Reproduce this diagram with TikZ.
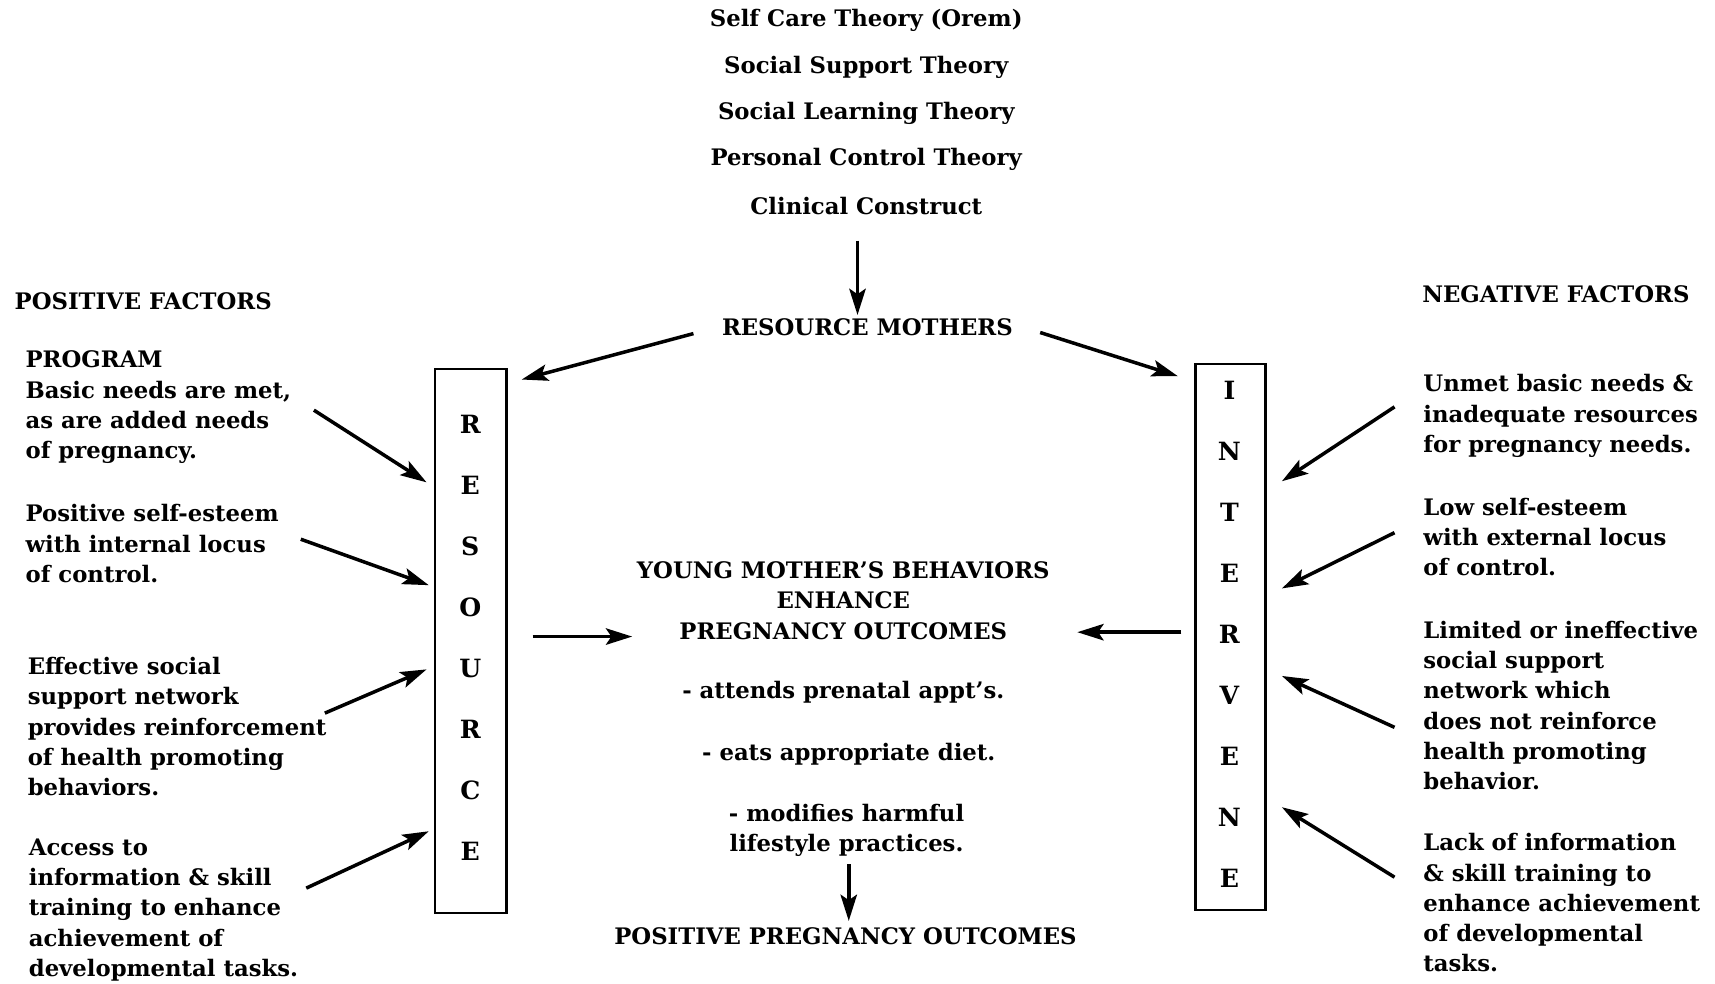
\documentclass[tikz,border=0pt]{standalone}
\usepackage{fontspec}
\setmainfont{DejaVu Serif}
\usetikzlibrary{arrows.meta}

\tikzset{
  lbl/.style={font=\bfseries\fontsize{10.4}{13.85}\selectfont, inner sep=0pt},
  fact/.style={lbl, align=left, anchor=west},
  mid/.style={lbl, align=center},
  letter/.style={font=\bfseries\fontsize{11.5}{12}\selectfont, inner sep=0pt},
  letterbox/.style={draw, line width=1pt, inner sep=0pt},
  pil/.style={-{Stealth[length=12pt,width=7.5pt,inset=2.5pt]}, line width=1.6pt},
}

\begin{document}
\begin{tikzpicture}[x=0.5pt, y=-0.5pt]

\useasboundingbox (0,0) rectangle (1568,899);

% theories
\foreach \t [count=\i] in {{Self Care Theory (Orem)}, {Social Support Theory},
    {Social Learning Theory}, {Personal Control Theory}, {Clinical Construct}}
  \node[mid] (th\i) at (792, {19+42.25*(\i-1)}) {\t};

\node[mid] (rm) at (793,299) {RESOURCE MOTHERS};

\node[lbl, anchor=west] (pos) at (13,275) {POSITIVE FACTORS};
\node[lbl, anchor=west] (neg) at (1300,269) {NEGATIVE FACTORS};

% the two boxes
\node[letterbox, minimum width=32.5pt, minimum height=249pt] (res) at (430.5,586) {};
\node[letterbox, minimum width=32pt, minimum height=249.5pt] (int) at (1125,582.5) {};

\foreach \ch [count=\i] in {R,E,S,O,U,R,C,E}
  \node[letter] (r\i) at (430, {388+55.7*(\i-1)}) {\ch};
\foreach \ch [count=\i] in {I,N,T,E,R,V,E,N,E}
  \node[letter] (n\i) at (1124, {357+55.8*(\i-1)}) {\ch};

% positive factors
\node[fact] (p1) at (23,372.5) {PROGRAM\\Basic needs are met,\\as are added needs\\of pregnancy.};
\node[fact] (p2) at (23,497) {Positive self-esteem\\with internal locus\\of control.};
\node[fact] (p3) at (25,664.5) {Effective social\\support network\\provides reinforcement\\of health promoting\\behaviors.};
\node[fact] (p4) at (26,832) {Access to\\information \& skill\\training to enhance\\achievement of\\developmental tasks.};

% negative factors
\node[fact] (q1) at (1301,380.5) {Unmet basic needs \&\\inadequate resources\\for pregnancy needs.};
\node[fact] (q2) at (1301,491) {Low self-esteem\\with external locus\\of control.};
\node[fact] (q3) at (1301,645) {Limited or ineffective\\social support\\network which\\does not reinforce\\health promoting\\behavior.};
\node[fact] (q4) at (1301,825.5) {Lack of information\\\& skill training to\\enhance achievement\\of developmental\\tasks.};

% middle
\node[mid] (beh) at (771,549) {YOUNG MOTHER'S BEHAVIORS\\ENHANCE\\PREGNANCY OUTCOMES};
\node[mid] (b1) at (771,633) {- attends prenatal appt's.};
\node[mid] (b2) at (776,690) {- eats appropriate diet.};
\node[mid] (b3) at (774,759) {- modifies harmful\\lifestyle practices.};
\node[mid] (out) at (773,856) {POSITIVE PREGNANCY OUTCOMES};

% arrow ends
\coordinate (t0) at (784,220);   \coordinate (t1) at (784,288);
\coordinate (ml) at (634,305);   \coordinate (mlx) at (477,347);
\coordinate (mr) at (951,304);   \coordinate (mrx) at (1077,344);
\coordinate (pa1) at (287,375);  \coordinate (pb1) at (390,441);
\coordinate (pa2) at (275,493);  \coordinate (pb2) at (392,535);
\coordinate (pa3) at (297,652);  \coordinate (pb3) at (390,612);
\coordinate (pa4) at (280,812);  \coordinate (pb4) at (392,760);
\coordinate (qa1) at (1275,372); \coordinate (qb1) at (1172,440);
\coordinate (qa2) at (1275,487); \coordinate (qb2) at (1172,538);
\coordinate (qa3) at (1275,665); \coordinate (qb3) at (1172,618);
\coordinate (qa4) at (1275,802); \coordinate (qb4) at (1172,738);
\coordinate (ra) at (487,582);   \coordinate (rb) at (578,582);
\coordinate (ia) at (1080,578);  \coordinate (ib) at (985,578);
\coordinate (d0) at (776,790);   \coordinate (d1) at (776,842);

\draw[pil] (t0) -- (t1);
\draw[pil] (ml) -- (mlx);
\draw[pil] (mr) -- (mrx);
\foreach \i in {1,...,4} {
  \draw[pil] (pa\i) -- (pb\i);
  \draw[pil] (qa\i) -- (qb\i);
}
\draw[pil] (ra) -- (rb);
\draw[pil] (ia) -- (ib);
\draw[pil] (d0) -- (d1);

\end{tikzpicture}
\end{document}
